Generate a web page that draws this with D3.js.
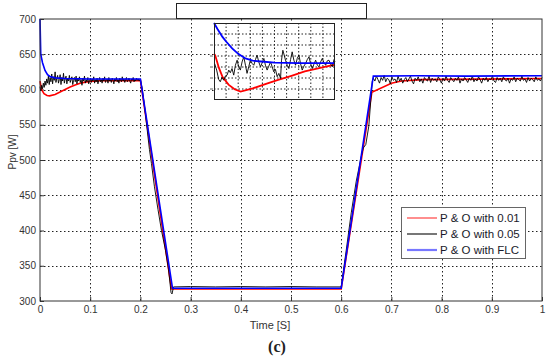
<!DOCTYPE html>
<html>
<head>
<meta charset="utf-8">
<script src="https://cdn.jsdelivr.net/npm/d3@7"></script>
<style>
  body { margin: 0; background: #fff; }
  text { font-family: "Liberation Sans", Arial, sans-serif; }
</style>
</head>
<body>
<svg id="chart" width="550" height="361"></svg>
<script>
// ---- data ----
const xTicks = [0, 0.1, 0.2, 0.3, 0.4, 0.5, 0.6, 0.7, 0.8, 0.9, 1]
const yTicks = [300, 350, 400, 450, 500, 550, 600, 650, 700]
const seriesNames = ["P & O with 0.01", "P & O with 0.05", "P & O with FLC"]

// P&O step 0.01 (red)
const red = [[0,612],[0.003,600],[0.008,594],[0.014,591.5],[0.019,591],[0.03,593],[0.04,596.5],[0.05,600],
  [0.06,603.5],[0.07,606.5],[0.08,609],[0.09,610.5],[0.1,611.5],[0.12,612.5],[0.2,613],[0.262,317],
  [0.6,317],[0.661,596],[0.7,609],[0.72,612],[0.76,614],[1,615.5]]

// P&O with FLC (blue)
const blue = [[0,700],[0.0015,650],[0.005,638],[0.01,627],[0.015,621],[0.02,618.5],[0.03,616.5],[0.05,615.5],
  [0.1,615],[0.2,615],[0.264,318],[0.6,318],[0.664,619],[0.75,619.5],[0.85,619],[1,619.5]]

// P&O step 0.05 (black) - first plateau samples 0 .. 0.2
const blackA = [604,598,606,601,609,603,612,606,615,609,619,607,617,611,622,608,618,613,625,610,
  616,620,609,614,621,607,617,612,623,609,615,619,608,616,612,620,610,614,618,607,
  613,617,611,619,608,615,612,618,610,614,606,616,612,619,609,614,611,617,608,613,
  616,610,615,612,618,609,614,611,616,608,613,617,611,614,609,616,612,618,610,613,
  615,609,617,612,614,610,616,613,608,615,612,617,611,614,609,616,613,611,618,612,
  615,610,614,617,611,613,616,612,609,615,613,617,611,614,612,616,613,615,612,614]
// black transition down, bottom, and rise
const blackB = [[0.2,614],[0.204,600],[0.21,565],[0.218,515],[0.222,495],[0.228,462],[0.235,430],[0.242,400],
  [0.25,372],[0.256,345],[0.261,312],[0.263,310],[0.266,320],[0.3,320.5],[0.35,320],[0.4,320.5],[0.45,320],
  [0.5,320.5],[0.55,320],[0.6,320],[0.61,372],[0.62,425],[0.63,470],[0.64,505],[0.644,517],[0.649,522],
  [0.655,548],[0.659,585],[0.662,612]]
// black second plateau samples 0.664 .. 1
const blackC = [616,612,619,614,609,617,613,620,611,616,614,608,618,613,615,610,619,612,616,609,
  614,617,611,615,619,612,608,616,613,618,611,615,609,617,614,612,619,610,616,613,
  615,611,618,614,609,616,612,619,613,610,617,614,611,616,613,618,609,615,612,617,
  614,610,616,613,619,611,615,612,618,614,609,616,613,617,611,615,614,619,612,610,
  617,613,616,611,618,614,612,616,609,615,613,618,611,616,614,612,619,613,615,610,
  617,612,616,614,611,618,613,615,612,617]

// inset (start-up zoom)
const insetXTicks = [0,0.01,0.02,0.03,0.04,0.05,0.06,0.07,0.08,0.09,0.1]
const insetYTicks = [590,595,600,605,610,615,620,625]
const insetBlue = [[0,625],[0.003,622.2],[0.007,618.7],[0.01,616.6],[0.015,613.45],[0.02,611],[0.026,608.9],
  [0.032,607.85],[0.039,607.5],[0.05,607],[0.07,606.8],[0.1,606.8]]
const insetRed = [[0,611],[0.001,610.3],[0.004,604.7],[0.007,600.5],[0.012,597],[0.017,594.9],[0.022,593.85],
  [0.032,595.25],[0.043,597.35],[0.053,599.1],[0.064,601],[0.075,603],[0.086,604.35],[0.097,605.75],[0.1,606]]
const insetBlack = [[0.0005,606.6],[0.0022,603.6],[0.0039,599.3],[0.0052,598.3],[0.0066,600.3],[0.008,599.0],
  [0.0094,600.9],[0.0108,601.3],[0.0122,603.6],[0.0135,602.4],[0.0149,604.3],[0.0163,601.3],[0.0177,605.8],
  [0.0191,608.1],[0.0204,605.1],[0.0218,603.6],[0.0232,607.3],[0.0246,609.6],[0.026,605.8],[0.0273,602.1],
  [0.0287,605.1],[0.0301,608.1],[0.0315,606.6],[0.0329,605.8],[0.0343,608.4],[0.0356,610.4],[0.037,607.3],
  [0.0384,605.1],[0.0398,606.9],[0.0412,608.9],[0.0425,605.8],[0.0439,603.6],[0.0453,605.4],[0.0467,607.3],
  [0.0481,605.1],[0.0494,602.8],[0.0508,603.9],[0.0522,600.6],[0.0536,602.1],[0.055,599.8],[0.0558,608.1],
  [0.0569,612.6],[0.058,610.4],[0.0591,608.1],[0.0605,605.8],[0.0619,604.3],[0.0633,608.4],[0.0646,611.9],
  [0.066,608.1],[0.0674,605.8],[0.0688,608.9],[0.0702,610.4],[0.0715,606.6],[0.0729,603.6],[0.0743,605.4],
  [0.0757,606.6],[0.0771,608.4],[0.0785,609.6],[0.0798,606.6],[0.0812,604.3],[0.0826,606.3],[0.084,608.1],
  [0.0854,605.8],[0.0867,605.1],[0.0881,607.3],[0.0895,608.9],[0.0909,606.9],[0.0923,605.8],[0.0936,607.8],
  [0.095,608.1],[0.0964,606.3],[0.0978,605.1],[0.0992,608.4],[0.1,607.3]]

// ---- build black series ----
const black = []
blackA.forEach((v, i) => black.push([i * 0.199 / (blackA.length - 1), v]))
blackB.forEach(d => black.push(d))
blackC.forEach((v, i) => black.push([0.664 + i * (1 - 0.664) / (blackC.length - 1), v]))

// ---- chart ----
const svg = d3.select("#chart")
const L = 40, R = 542, T = 19, B = 301

const x = d3.scaleLinear().domain([0, 1]).range([L, R])
const y = d3.scaleLinear().domain([300, 700]).range([B, T])

// empty title box above plot
svg.append("rect").attr("x", 176.5).attr("y", 3.5).attr("width", 190).attr("height", 15)
  .attr("fill", "#fff").attr("stroke", "#222").attr("stroke-width", 1)

// grid
const grid = svg.append("g")
grid.selectAll(".gx").data(xTicks.slice(1, -1)).join("line")
  .attr("x1", d => Math.round(x(d)) + 0.5).attr("x2", d => Math.round(x(d)) + 0.5)
  .attr("y1", T).attr("y2", B)
  .attr("stroke", "#222").attr("stroke-dasharray", "1.5,2.5")
grid.selectAll(".gy").data(yTicks.slice(1, -1)).join("line")
  .attr("y1", d => Math.round(y(d)) + 0.5).attr("y2", d => Math.round(y(d)) + 0.5)
  .attr("x1", L).attr("x2", R)
  .attr("stroke", "#222").attr("stroke-dasharray", "1.5,2.5")

// axes
const fmt = d3.format("")
const xAxis = svg.append("g").attr("transform", `translate(0,${B})`)
  .call(d3.axisBottom(x).tickValues(xTicks).tickFormat(fmt).tickSizeInner(-4).tickSizeOuter(0).tickPadding(5))
const yAxis = svg.append("g").attr("transform", `translate(${L},0)`)
  .call(d3.axisLeft(y).tickValues(yTicks).tickSizeInner(-4).tickSizeOuter(0).tickPadding(4))
;[xAxis, yAxis].forEach(a => {
  a.select(".domain").remove()
  a.selectAll("line").attr("stroke", "#333")
  a.selectAll("text").attr("fill", "#333").style("font-size", "10px")
})

// lines
const line = d3.line().x(d => x(d[0])).y(d => y(d[1]))
const plot = svg.append("g")
plot.append("path").datum(red).attr("d", line).attr("fill", "none").attr("stroke", "#ff0000").attr("stroke-width", 1.6)
plot.append("path").datum(black).attr("d", line).attr("fill", "none").attr("stroke", "#000").attr("stroke-width", 0.9)
plot.append("path").datum(blue).attr("d", line).attr("fill", "none").attr("stroke", "#0000ff").attr("stroke-width", 1.6)

// frame
svg.append("rect").attr("x", L).attr("y", T).attr("width", R - L).attr("height", B - T)
  .attr("fill", "none").attr("stroke", "#333").attr("stroke-width", 1)

// axis labels
svg.append("text").attr("transform", `translate(12,152) rotate(-90)`).attr("text-anchor", "middle")
  .attr("dy", "0.35em").style("font-size", "10px").attr("fill", "#333").text("Ppv [W]")
svg.append("text").attr("x", 270).attr("y", 329).attr("text-anchor", "middle")
  .style("font-size", "11px").attr("fill", "#333").text("Time [S]")
svg.append("text").attr("x", 277).attr("y", 352).attr("text-anchor", "middle")
  .style("font-family", "'Liberation Serif', 'DejaVu Serif', serif").style("font-size", "16px")
  .style("font-weight", "bold").attr("fill", "#222").text("(c)")

// ---- inset ----
const ix = d3.scaleLinear().domain([0, 0.1]).range([214, 335])
const iy = d3.scaleLinear().domain([590, 625]).range([100, 23])
const inset = svg.append("g")
inset.append("rect").attr("x", 214).attr("y", 23).attr("width", 121).attr("height", 77).attr("fill", "#fff")
inset.selectAll(".igx").data(insetXTicks.slice(1, -1)).join("line")
  .attr("x1", d => ix(d)).attr("x2", d => ix(d)).attr("y1", 23).attr("y2", 100)
  .attr("stroke", "#222").attr("stroke-dasharray", "1.5,2")
inset.selectAll(".igy").data(insetYTicks.slice(1, -1)).join("line")
  .attr("y1", d => iy(d)).attr("y2", d => iy(d)).attr("x1", 214).attr("x2", 335)
  .attr("stroke", "#222").attr("stroke-dasharray", "1.5,2")
inset.selectAll(".ity").data(insetYTicks.slice(1, -1)).join("line")
  .attr("y1", d => iy(d)).attr("y2", d => iy(d)).attr("x1", 210).attr("x2", 213)
  .attr("stroke", "#666")
const iline = d3.line().x(d => ix(d[0])).y(d => iy(d[1]))
inset.append("path").datum(insetRed).attr("d", iline).attr("fill", "none").attr("stroke", "#ff0000").attr("stroke-width", 1.8)
inset.append("path").datum(insetBlack).attr("d", iline).attr("fill", "none").attr("stroke", "#000").attr("stroke-width", 0.9)
inset.append("path").datum(insetBlue).attr("d", iline).attr("fill", "none").attr("stroke", "#0000ff").attr("stroke-width", 1.8)
inset.append("rect").attr("x", 214.5).attr("y", 23.5).attr("width", 120).attr("height", 76)
  .attr("fill", "none").attr("stroke", "#222")

// ---- legend ----
const legendColors = ["#ff4444", "#555555", "#7777ff"]
const legendWidths = [1.2, 1.6, 2.2]
const lg = svg.append("g")
lg.append("rect").attr("x", 401.5).attr("y", 207.5).attr("width", 124).attr("height", 51)
  .attr("fill", "#fff").attr("stroke", "#666")
const rows = lg.selectAll(".row").data(seriesNames).join("g")
  .attr("transform", (d, i) => `translate(0,${218 + i * 16})`)
rows.append("line").attr("x1", 407).attr("x2", 437).attr("y1", 0).attr("y2", 0)
  .attr("stroke", (d, i) => legendColors[i]).attr("stroke-width", (d, i) => legendWidths[i])
rows.append("text").attr("x", 440).attr("dy", "0.36em").style("font-size", "11.5px")
  .attr("fill", "#1a1a2a").text(d => d)
</script>
</body>
</html>
